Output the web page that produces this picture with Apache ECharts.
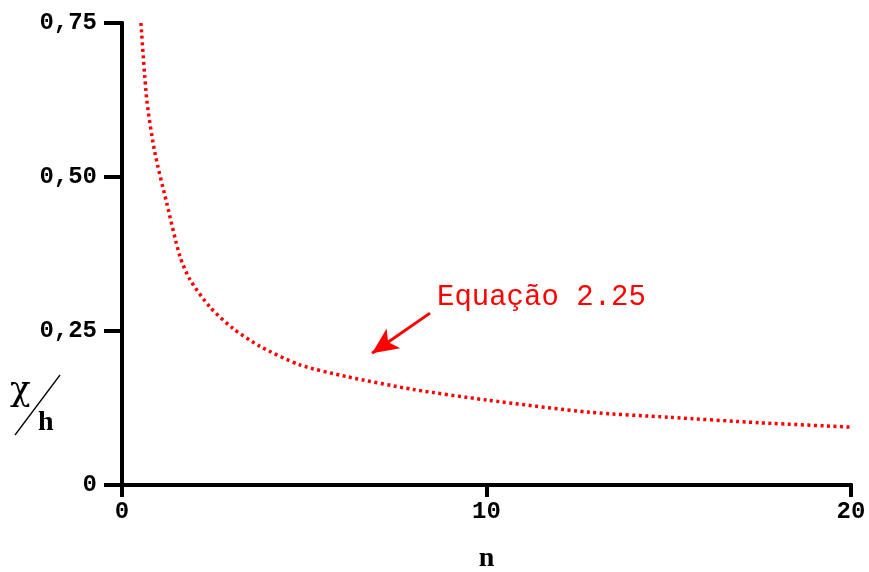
<!DOCTYPE html>
<html>
<head>
<meta charset="utf-8">
<script src="https://cdn.jsdelivr.net/npm/echarts@6/dist/echarts.min.js"></script>
<style>
  html, body { margin: 0; padding: 0; background: #fff; }
  #chart { width: 869px; height: 572px; }
</style>
</head>
<body>
<div id="chart"></div>
<script>
// valores
const nValues = [0.52, 0.68, 0.9, 1.23, 1.59, 1.87, 2.41, 3.05, 3.79, 4.88, 6.16, 8, 10, 12.84, 15, 17.5, 20];
const ratioValues = [0.75, 0.625, 0.54, 0.457, 0.371, 0.333, 0.289, 0.254, 0.225, 0.195, 0.176, 0.155, 0.138, 0.118, 0.11, 0.101, 0.094];
const yTickLabels = ['0', '0,25', '0,50', '0,75'];
const xTickLabels = ['0', '10', '20'];
// seta da anotação (início -> ponta), em coordenadas dos dados
const arrowFrom = [8.45, 0.279];
const arrowTo = [6.86, 0.214];

const mono = '"Liberation Mono", "Courier New", monospace';
const serif = '"Liberation Serif", "Times New Roman", serif';
const black = '#000';
const red = '#ff0000';

const chart = echarts.init(document.getElementById('chart'));

const axisLine = { show: true, lineStyle: { color: black, width: 4 } };

chart.setOption({
  animation: false,
  grid: { left: 122, right: 18, top: 23, bottom: 87, containLabel: false, outerBoundsMode: 'none' },
  xAxis: [
    {
      type: 'value',
      min: 0,
      max: 20,
      interval: 10,
      position: 'bottom',
      axisLine: axisLine,
      axisTick: { show: true, length: 12, lineStyle: { color: black, width: 4 } },
      axisLabel: {
        margin: 15,
        color: black,
        fontFamily: mono,
        fontWeight: 'bold',
        fontSize: 24,
        formatter: (v) => xTickLabels[Math.round(v / 10)]
      },
      splitLine: { show: false },
      name: 'n',
      nameLocation: 'middle',
      nameGap: 60,
      nameTextStyle: { color: black, fontFamily: serif, fontWeight: 'bold', fontSize: 28 }
    },
    {
      type: 'value',
      min: 0,
      max: 20,
      position: 'top',
      axisLine: axisLine,
      axisTick: { show: false },
      axisLabel: { show: false },
      splitLine: { show: false }
    }
  ],
  yAxis: [
    {
      type: 'value',
      min: 0,
      max: 0.75,
      interval: 0.25,
      position: 'left',
      axisLine: axisLine,
      axisTick: { show: true, length: 18, lineStyle: { color: black, width: 4 } },
      axisLabel: {
        margin: 25,
        color: black,
        fontFamily: mono,
        fontWeight: 'bold',
        fontSize: 24,
        padding: [0, 0, 6, 0],
        formatter: (v) => yTickLabels[Math.round(v / 0.25)]
      },
      splitLine: { show: false }
    },
    {
      type: 'value',
      min: 0,
      max: 0.75,
      position: 'right',
      axisLine: axisLine,
      axisTick: { show: false },
      axisLabel: { show: false },
      splitLine: { show: false }
    }
  ],
  series: [
    {
      type: 'line',
      data: nValues.map((n, i) => [n, ratioValues[i]]),
      showSymbol: false,
      smooth: 0.25,
      lineStyle: { color: red, width: 3.5, type: [3, 3.5] },
      markLine: {
        silent: true,
        symbol: ['none', 'arrow'],
        symbolSize: [18, 26],
        lineStyle: { color: red, width: 3, type: 'solid' },
        label: { show: false },
        data: [[{ coord: arrowFrom }, { coord: arrowTo }]]
      }
    }
  ],
  graphic: [
    // anotação
    {
      type: 'text',
      left: 437,
      top: 283,
      style: { text: 'Equação 2.25', fill: red, font: '29px ' + mono }
    },
    // rótulo do eixo y: χ / h
    {
      type: 'text',
      left: 10,
      top: 374,
      style: { text: 'χ', fill: black, font: '34px "DejaVu Serif", serif' }
    },
    {
      type: 'line',
      shape: { x1: 15, y1: 435, x2: 60, y2: 375 },
      style: { stroke: black, lineWidth: 1.3 }
    },
    {
      type: 'text',
      left: 38,
      top: 409,
      style: { text: 'h', fill: black, font: 'bold 28px ' + serif }
    }
  ]
});
</script>
</body>
</html>
